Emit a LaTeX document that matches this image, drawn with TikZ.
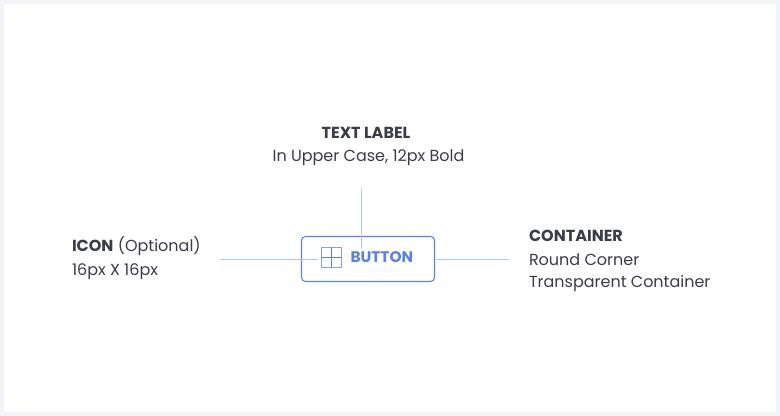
\documentclass[tikz,border=0pt]{standalone}
\usepackage{fontspec}
\setmainfont{Poppins}
\definecolor{bgc}{HTML}{F3F4F8}
\definecolor{linec}{HTML}{A4CCF6}
\definecolor{btnc}{HTML}{5A82E0}
\definecolor{iconc}{HTML}{8A9EEC}
\definecolor{plusc}{HTML}{5A7DE0}
\definecolor{txtc}{HTML}{3A3D48}
\begin{document}
\begin{tikzpicture}[x=0.75pt,y=-0.75pt,
  lbl/.style={inner sep=0pt,outer sep=0pt,text=txtc,font=\fontsize{12pt}{14pt}\selectfont},
  conn/.style={draw=linec,line width=0.8pt},
  btnbox/.style={draw=btnc,line width=0.8pt,rounded corners=3pt,minimum width=133*0.75pt,minimum height=45*0.75pt,inner sep=0pt},
  iconbox/.style={draw=iconc,line width=0.8pt,minimum size=20*0.75pt,inner sep=0pt}]
\fill[bgc] (0,0) rectangle (780,416);
\fill[white] (4,4) rectangle (776,412);
% button
\node[btnbox] (btn) at (368,259) {};
\node[iconbox] (icon) at (331.5,257.5) {};
\draw[draw=plusc,line width=0.9pt] (icon.north) -- (icon.south) (icon.west) -- (icon.east);
\node[lbl,anchor=base west,text=btnc,font=\fontsize{11.5pt}{13pt}\selectfont\bfseries] (btext) at (350.5,262.7) {BUTTON};
% labels
\node[lbl,anchor=base,font=\fontsize{12pt}{14pt}\selectfont\bfseries] (tl1) at (366,139) {TEXT LABEL};
\node[lbl,anchor=base] (tl2) at (368.5,162) {In Upper Case, 12px Bold};
\node[lbl,anchor=base west] (ic1) at (72,252) {\textbf{ICON} (Optional)};
\node[lbl,anchor=base west] (ic2) at (72,275) {16px X 16px};
\node[lbl,anchor=base west,font=\fontsize{12pt}{14pt}\selectfont\bfseries] (ct1) at (529,242) {CONTAINER};
\node[lbl,anchor=base west] (ct2) at (529,265) {Round Corner};
\node[lbl,anchor=base west] (ct3) at (529,287) {Transparent Container};
% connectors
\coordinate (vtop) at (361.5,189);
\coordinate (vbot) at (361.5,248);
\coordinate (lend) at (220,259.5);
\coordinate (lbeg) at (318,259.5);
\coordinate (rbeg) at (436,259.5);
\coordinate (rend) at (509,259.5);
\draw[conn] (vtop) -- (vbot);
\draw[conn] (lend) -- (lbeg);
\draw[conn] (rbeg) -- (rend);
\end{tikzpicture}
\end{document}
